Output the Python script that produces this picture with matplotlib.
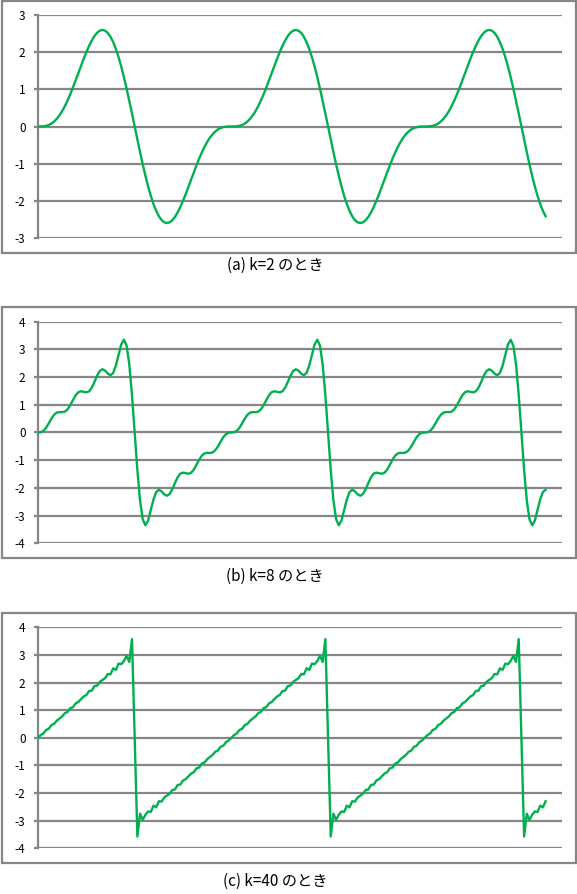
import matplotlib
matplotlib.use("Agg")
import matplotlib.pyplot as plt
import numpy as np
from matplotlib.patches import Rectangle

plt.rcParams["font.family"] = ["Noto Sans CJK JP", "DejaVu Sans"]
plt.rcParams["axes.unicode_minus"] = False

GREEN = "#00B050"
GRAY = "#868686"

# phase (degrees), one sample every 5 degrees, 0 .. 945
angle_deg = np.arange(0, 950, 5)

# values, one period = 72 samples
y_k2 = [
    0, 0.001, 0.005, 0.018, 0.041, 0.079, 0.134, 0.208, 0.301, 0.414, 0.547, 0.699,
    0.866, 1.047, 1.237, 1.432, 1.628, 1.819, 2.0, 2.166, 2.312, 2.432, 2.522, 2.579,
    2.598, 2.578, 2.517, 2.414, 2.270, 2.087, 1.866, 1.611, 1.327, 1.018, 0.689, 0.348,
    0, -0.348, -0.689, -1.018, -1.327, -1.611, -1.866, -2.087, -2.270, -2.414, -2.517, -2.578,
    -2.598, -2.579, -2.522, -2.432, -2.312, -2.166, -2.0, -1.819, -1.628, -1.432, -1.237, -1.047,
    -0.866, -0.699, -0.547, -0.414, -0.301, -0.208, -0.134, -0.079, -0.041, -0.018, -0.005, -0.001,
    0, 0.001, 0.005, 0.018, 0.041, 0.079, 0.134, 0.208, 0.301, 0.414, 0.547, 0.699,
    0.866, 1.047, 1.237, 1.432, 1.628, 1.819, 2.0, 2.166, 2.312, 2.432, 2.522, 2.579,
    2.598, 2.578, 2.517, 2.414, 2.270, 2.087, 1.866, 1.611, 1.327, 1.018, 0.689, 0.348,
    0, -0.348, -0.689, -1.018, -1.327, -1.611, -1.866, -2.087, -2.270, -2.414, -2.517, -2.578,
    -2.598, -2.579, -2.522, -2.432, -2.312, -2.166, -2.0, -1.819, -1.628, -1.432, -1.237, -1.047,
    -0.866, -0.699, -0.547, -0.414, -0.301, -0.208, -0.134, -0.079, -0.041, -0.018, -0.005, -0.001,
    0, 0.001, 0.005, 0.018, 0.041, 0.079, 0.134, 0.208, 0.301, 0.414, 0.547, 0.699,
    0.866, 1.047, 1.237, 1.432, 1.628, 1.819, 2.0, 2.166, 2.312, 2.432, 2.522, 2.579,
    2.598, 2.578, 2.517, 2.414, 2.270, 2.087, 1.866, 1.611, 1.327, 1.018, 0.689, 0.348,
    0, -0.348, -0.689, -1.018, -1.327, -1.611, -1.866, -2.087, -2.270, -2.414,
]

y_k8 = [
    0, 0.008, 0.057, 0.168, 0.330, 0.502, 0.641, 0.719, 0.738, 0.734, 0.754, 0.835,
    0.983, 1.169, 1.342, 1.454, 1.489, 1.469, 1.448, 1.485, 1.615, 1.822, 2.049, 2.221,
    2.283, 2.231, 2.126, 2.067, 2.151, 2.415, 2.806, 3.181, 3.348, 3.134, 2.454, 1.352,
    0, -1.352, -2.454, -3.134, -3.348, -3.181, -2.806, -2.415, -2.151, -2.067, -2.126, -2.231,
    -2.283, -2.221, -2.049, -1.822, -1.615, -1.485, -1.448, -1.469, -1.489, -1.454, -1.342, -1.169,
    -0.983, -0.835, -0.754, -0.734, -0.738, -0.719, -0.641, -0.502, -0.330, -0.168, -0.057, -0.008,
    0, 0.008, 0.057, 0.168, 0.330, 0.502, 0.641, 0.719, 0.738, 0.734, 0.754, 0.835,
    0.983, 1.169, 1.342, 1.454, 1.489, 1.469, 1.448, 1.485, 1.615, 1.822, 2.049, 2.221,
    2.283, 2.231, 2.126, 2.067, 2.151, 2.415, 2.806, 3.181, 3.348, 3.134, 2.454, 1.352,
    0, -1.352, -2.454, -3.134, -3.348, -3.181, -2.806, -2.415, -2.151, -2.067, -2.126, -2.231,
    -2.283, -2.221, -2.049, -1.822, -1.615, -1.485, -1.448, -1.469, -1.489, -1.454, -1.342, -1.169,
    -0.983, -0.835, -0.754, -0.734, -0.738, -0.719, -0.641, -0.502, -0.330, -0.168, -0.057, -0.008,
    0, 0.008, 0.057, 0.168, 0.330, 0.502, 0.641, 0.719, 0.738, 0.734, 0.754, 0.835,
    0.983, 1.169, 1.342, 1.454, 1.489, 1.469, 1.448, 1.485, 1.615, 1.822, 2.049, 2.221,
    2.283, 2.231, 2.126, 2.067, 2.151, 2.415, 2.806, 3.181, 3.348, 3.134, 2.454, 1.352,
    0, -1.352, -2.454, -3.134, -3.348, -3.181, -2.806, -2.415, -2.151, -2.067,
]

y_k40 = [
    0, 0.097, 0.157, 0.285, 0.324, 0.460, 0.506, 0.621, 0.698, 0.775, 0.892, 0.934,
    1.076, 1.107, 1.243, 1.297, 1.396, 1.496, 1.546, 1.692, 1.707, 1.870, 1.890, 2.025,
    2.094, 2.161, 2.310, 2.297, 2.516, 2.455, 2.686, 2.665, 2.783, 2.969, 2.747, 3.573,
    0, -3.573, -2.747, -2.969, -2.783, -2.665, -2.686, -2.455, -2.516, -2.297, -2.310, -2.161,
    -2.094, -2.025, -1.890, -1.870, -1.707, -1.692, -1.546, -1.496, -1.396, -1.297, -1.243, -1.107,
    -1.076, -0.934, -0.892, -0.775, -0.698, -0.621, -0.506, -0.460, -0.324, -0.285, -0.157, -0.097,
    0, 0.097, 0.157, 0.285, 0.324, 0.460, 0.506, 0.621, 0.698, 0.775, 0.892, 0.934,
    1.076, 1.107, 1.243, 1.297, 1.396, 1.496, 1.546, 1.692, 1.707, 1.870, 1.890, 2.025,
    2.094, 2.161, 2.310, 2.297, 2.516, 2.455, 2.686, 2.665, 2.783, 2.969, 2.747, 3.573,
    0, -3.573, -2.747, -2.969, -2.783, -2.665, -2.686, -2.455, -2.516, -2.297, -2.310, -2.161,
    -2.094, -2.025, -1.890, -1.870, -1.707, -1.692, -1.546, -1.496, -1.396, -1.297, -1.243, -1.107,
    -1.076, -0.934, -0.892, -0.775, -0.698, -0.621, -0.506, -0.460, -0.324, -0.285, -0.157, -0.097,
    0, 0.097, 0.157, 0.285, 0.324, 0.460, 0.506, 0.621, 0.698, 0.775, 0.892, 0.934,
    1.076, 1.107, 1.243, 1.297, 1.396, 1.496, 1.546, 1.692, 1.707, 1.870, 1.890, 2.025,
    2.094, 2.161, 2.310, 2.297, 2.516, 2.455, 2.686, 2.665, 2.783, 2.969, 2.747, 3.573,
    0, -3.573, -2.747, -2.969, -2.783, -2.665, -2.686, -2.455, -2.516, -2.297,
]

series = [y_k2, y_k8, y_k40]
captions = ["(a) k=2 のとき", "(b) k=8 のとき", "(c) k=40 のとき"]
y_limits = [3, 4, 4]

W, H = 577, 894
fig = plt.figure(figsize=(W / 100, H / 100), dpi=100)

# pixel layout: box top, box bottom, plot top, plot bottom, caption y
layout = [
    (1.0, 252.7, 15.0, 238.0, 265.0),
    (306.7, 558.3, 321.7, 543.3, 576.5),
    (612.7, 863.3, 627.3, 848.3, 881.5),
]
plot_left, plot_right = 38.0, 561.7

for y, cap, lim, (bt, bb, pt, pb, cy) in zip(series, captions, y_limits, layout):
    box = Rectangle((2 / W, 1 - bb / H), 573.7 / W, (bb - bt) / H,
                    transform=fig.transFigure, fill=False,
                    edgecolor=GRAY, linewidth=1.6)
    fig.add_artist(box)

    ax = fig.add_axes([plot_left / W, 1 - pb / H,
                       (plot_right - plot_left) / W, (pb - pt) / H])
    ax.plot(angle_deg, y, color=GREEN, linewidth=1.7,
            solid_joinstyle="round", zorder=3)

    ax.set_xlim(0, 975)
    ax.set_ylim(-lim, lim)
    ax.set_yticks(range(-lim, lim + 1))
    ax.set_xticks([])
    ax.grid(axis="y", color=GRAY, linewidth=1.6)
    ax.set_axisbelow(True)
    for side in ["top", "right", "bottom"]:
        ax.spines[side].set_visible(False)
    ax.spines["left"].set_color(GRAY)
    ax.spines["left"].set_linewidth(1.6)
    ax.tick_params(axis="y", length=3, width=1.6, color=GRAY,
                   labelsize=8.5, pad=6, labelcolor="black")

    fig.text(275 / W, 1 - cy / H, cap, ha="center", va="center",
             fontsize=11, color="black")

fig.savefig("out.png", dpi=100)
